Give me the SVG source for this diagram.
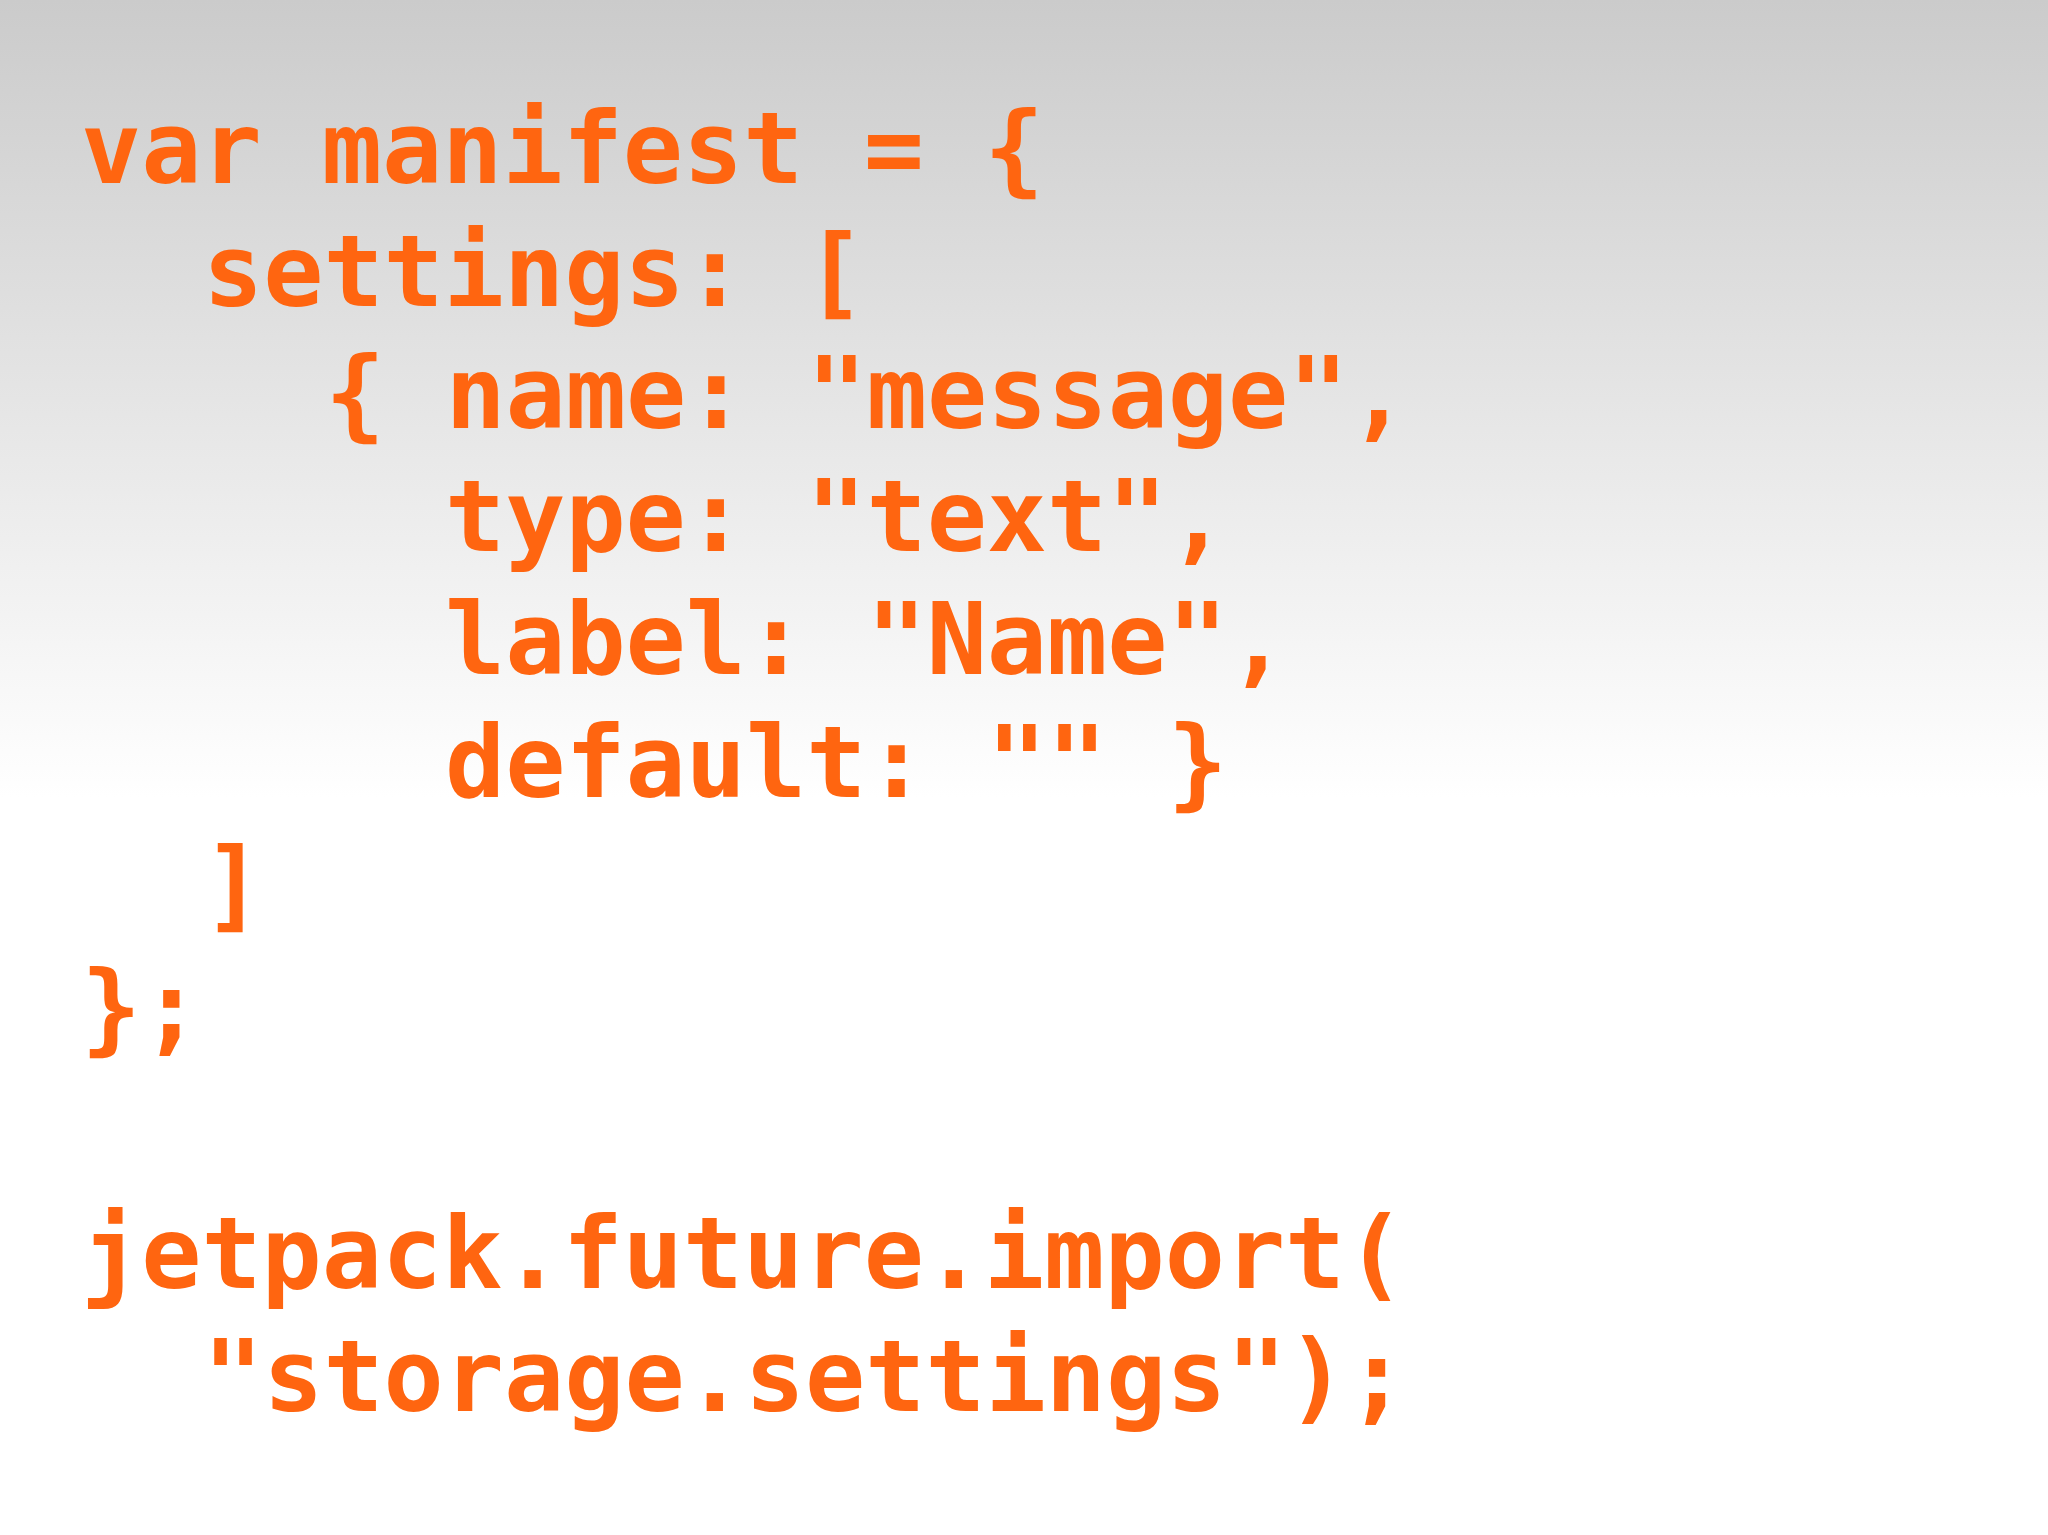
<svg xmlns="http://www.w3.org/2000/svg" width="2048" height="1535" viewBox="0 0 2048 1535">
<defs>
<linearGradient id="bg" x1="0" y1="0" x2="0" y2="1">
<stop offset="0" stop-color="#cbcbcb"/>
<stop offset="0.52" stop-color="#ffffff"/>
<stop offset="1" stop-color="#ffffff"/>
</linearGradient>
<style>
.c{font-family:"DejaVu Sans Mono",monospace;font-weight:bold;font-size:100px;fill:#ff6510}
</style>
</defs>
<rect width="2048" height="1535" fill="url(#bg)"/>
<g id="code" class="c">
<text x="81" y="183">var manifest = {</text>
<text x="203" y="306">settings: [</text>
<text x="325" y="428">{ name: "message",</text>
<text x="445" y="551">type: "text",</text>
<text x="445" y="674">label: "Name",</text>
<text x="445" y="797">default: "" }</text>
<text x="203" y="919">]</text>
<text x="81" y="1042">};</text>
<text x="81" y="1288">jetpack.future.import(</text>
<text x="203" y="1411">"storage.settings");</text>
</g>
</svg>
